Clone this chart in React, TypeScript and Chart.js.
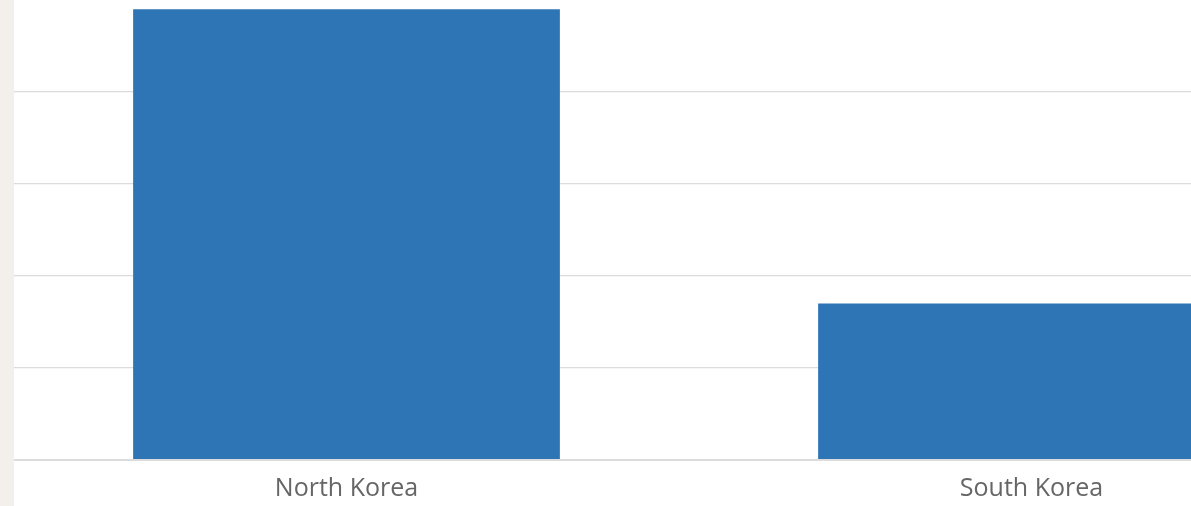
import React, { useEffect, useRef } from "react";
import { Chart, registerables } from "chart.js";

Chart.register(...registerables);

const categories = ["North Korea", "South Korea"];
const seriesValues = [49, 17];
const yTickValues = [0, 10, 20, 30, 40, 50];

export default function App() {
  const ref = useRef<HTMLCanvasElement | null>(null);

  useEffect(() => {
    document.body.style.margin = "0";
    const ctx = ref.current;
    if (!ctx) return;
    const chart = new Chart(ctx, {
      type: "bar",
      data: {
        labels: categories,
        datasets: [
          {
            data: seriesValues,
            backgroundColor: "#2e75b6",
            borderWidth: 0,
            barPercentage: 0.623,
            categoryPercentage: 1,
          },
        ],
      },
      options: {
        animation: false,
        responsive: false,
        maintainAspectRatio: false,
        layout: { padding: { left: 4, right: 0, top: 0, bottom: 7 } },
        plugins: { legend: { display: false }, tooltip: { enabled: false } },
        scales: {
          x: {
            grid: { display: false, drawTicks: false },
            border: { display: false },
            ticks: {
              color: "#666",
              padding: 14,
              font: { family: "Open Sans", size: 25 },
            },
          },
          y: {
            min: yTickValues[0],
            max: yTickValues[yTickValues.length - 1],
            afterBuildTicks: (axis: any) => {
              axis.ticks = yTickValues.map((v) => ({ value: v }));
            },
            grid: {
              drawTicks: false,
              color: (c: any) =>
                c.tick && c.tick.value === yTickValues[yTickValues.length - 1]
                  ? "rgba(0,0,0,0)"
                  : "#dcdcdc",
              lineWidth: (c: any) => (c.tick && c.tick.value === 0 ? 2 : 1.2),
            },
            border: { display: false },
            ticks: { display: false },
          },
        },
      },
    });
    return () => chart.destroy();
  }, []);

  return (
    <div
      style={{
        position: "fixed",
        left: 0,
        top: 0,
        width: 1191,
        height: 506,
        overflow: "hidden",
        background: "#fff",
      }}
    >
      <canvas
        ref={ref}
        width={1374}
        height={525}
        style={{ position: "absolute", left: 0, top: 0, width: 1374, height: 525 }}
      />
      <div
        style={{
          position: "absolute",
          left: 0,
          top: 0,
          width: 14,
          height: 506,
          background: "#f3f0ec",
        }}
      />
    </div>
  );
}
